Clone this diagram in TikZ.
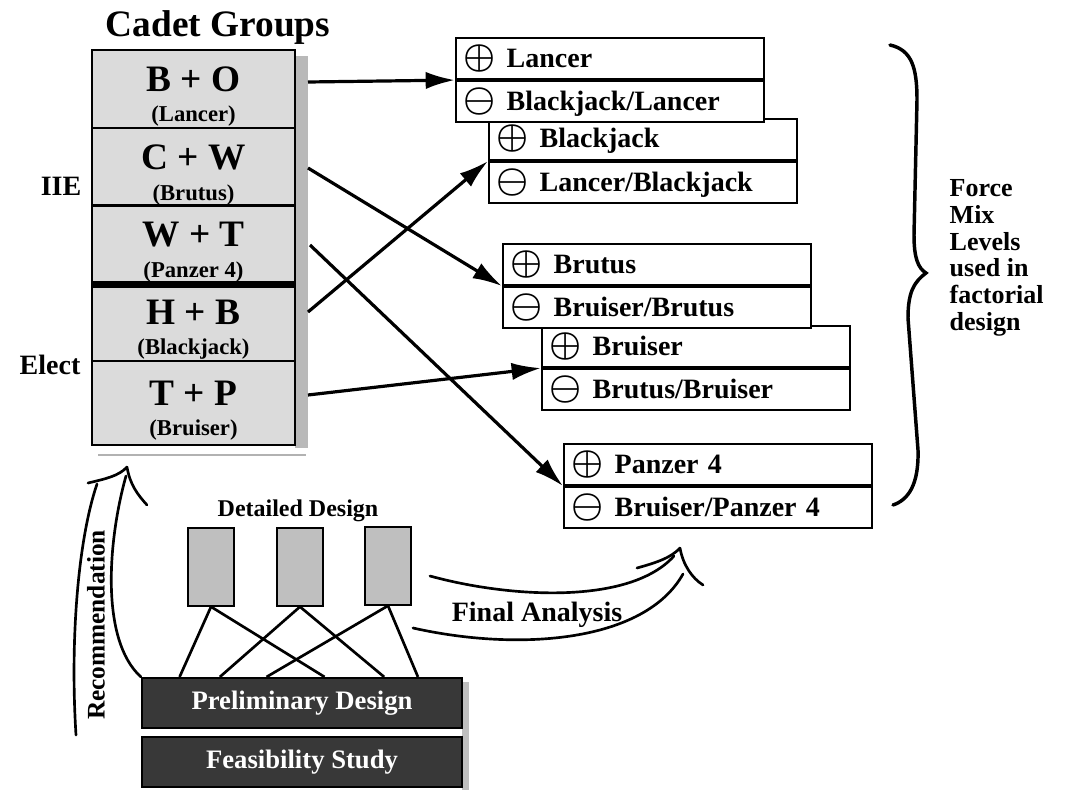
\documentclass[tikz,border=0pt]{standalone}
\usepackage{fontspec}
\setmainfont{Liberation Serif}
\usepackage{tikz}
\usetikzlibrary{arrows.meta,positioning,calc}

\newcommand{\plusmark}{\scalebox{1.3}{\boldmath$\oplus$}\hspace{8pt}}
\newcommand{\minusmark}{\scalebox{1.3}{\boldmath$\ominus$}\hspace{8pt}}
\newcommand{\cadet}[2]{{\fontsize{28}{28}\selectfont\rule{0pt}{30pt}#1}\\[10pt]{\fontsize{17}{17}\selectfont(#2)}}

\begin{document}
\bfseries
\begin{tikzpicture}[x=0.75pt,y=-0.75pt]
    \tikzset{cell/.style = {draw,line width=1.6pt,fill=gray!28,minimum width=152pt,minimum height=58.5pt,inner sep=0pt,align=center}}
    \tikzset{mixrow/.style = {draw,line width=1.3pt,fill=white,text width=219pt,align=left,minimum height=31pt,inner xsep=6pt,inner ysep=2pt,anchor=north west,font=\fontsize{21}{23}\selectfont}}
    \tikzset{link/.style = {line width=2.4pt,-{Latex[length=22pt,width=13pt]}}}
    \tikzset{doc/.style = {draw,line width=1.6pt,fill=gray!50,minimum width=34pt,minimum height=58pt}}
    \tikzset{stage/.style = {draw,line width=1.6pt,fill=black!78,text=white,minimum width=240pt,minimum height=37.5pt,font=\fontsize{20}{22}\selectfont}}
    \tikzset{docline/.style = {line width=2pt}}
    \tikzset{curve/.style = {line width=2pt,line cap=round}}

    \useasboundingbox (0,0) rectangle (1068,792);

    % cadet groups
    \node[font=\fontsize{28}{30}\selectfont] (title) at (218,28) {Cadet Groups};
    \fill[gray!55] (295,56) rectangle (308,448);
    \draw[gray!60,line width=1.5pt] (98,455) -- (306,455);
    \node[cell] (bo) at (193.5,89) {\cadet{B + O}{Lancer}};
    \node[cell] (cw) at (193.5,167) {\cadet{C + W}{Brutus}};
    \node[cell] (wt) at (193.5,244.5) {\cadet{W + T}{Panzer 4}};
    \node[cell] (hb) at (193.5,322) {\cadet{H + B}{Blackjack}};
    \node[cell,minimum height=63pt] (tp) at (193.5,403) {\cadet{T + P}{Bruiser}};
    \draw[line width=5pt] (wt.south west) -- (wt.south east);
    \node[font=\fontsize{21}{22}\selectfont] (iie) at (61,186) {IIE};
    \node[font=\fontsize{21}{22}\selectfont] (elect) at (50,365) {Elect};

    % force mix levels
    \node[mixrow] (blackjackP) at (488,118) {\plusmark Blackjack};
    \node[mixrow,below=0pt of blackjackP] (blackjackM) {\minusmark Lancer/Blackjack};
    \node[mixrow] (lancerP) at (455,37) {\plusmark Lancer};
    \node[mixrow,below=0pt of lancerP] (lancerM) {\minusmark Blackjack/Lancer};
    \node[mixrow] (bruiserP) at (541,325) {\plusmark Bruiser};
    \node[mixrow,below=0pt of bruiserP] (bruiserM) {\minusmark Brutus/Bruiser};
    \node[mixrow] (brutusP) at (502,243) {\plusmark Brutus};
    \node[mixrow,below=0pt of brutusP] (brutusM) {\minusmark Bruiser/Brutus};
    \node[mixrow] (panzerP) at (563,443) {\plusmark Panzer 4};
    \node[mixrow,below=0pt of panzerP] (panzerM) {\minusmark Bruiser/Panzer 4};

    % links
    \coordinate (boOut) at (308,82);
    \coordinate (cwOut) at (308,168);
    \coordinate (wtOut) at (310,245);
    \coordinate (hbOut) at (308,312);
    \coordinate (tpOut) at (308,395);
    \draw[link] (boOut) -- (lancerP.south west);
    \draw[link] (cwOut) -- (brutusP.south west);
    \draw[link] (wtOut) -- (panzerP.south west);
    \draw[link] (hbOut) -- (blackjackP.south west);
    \draw[link] (tpOut) -- (bruiserP.south west);

    % brace
    \draw[line width=2.6pt,line cap=round] (890,45) .. controls (912,50) and (917,68) .. (917,100)
        -- (914,235) .. controls (914,258) and (918,268) .. (926,273)
        .. controls (914,282) and (908,292) .. (908,318)
        -- (918,450) .. controls (919,485) and (908,500) .. (893,505);
    \node[align=left,anchor=west,font=\fontsize{19.5}{20}\selectfont] (forcemix) at (945,258)
        {Force\\Mix\\Levels\\used in\\factorial\\design};

    % design stages
    \node[font=\fontsize{18}{20}\selectfont] (detailed) at (298,511) {Detailed Design};
    \node[doc] (docA) at (211,567) {};
    \node[doc] (docB) at (300,567) {};
    \node[doc] (docC) at (388,566) {};
    \fill[gray!50] (462,682) rectangle (469,790);
    \node[stage] (prelim) at (302,703) {Preliminary Design};
    \node[stage,below=5pt of prelim] (feas) {Feasibility Study};
    \draw[docline] (docA.south) -- ($(prelim.north west)!0.12!(prelim.north east)$);
    \draw[docline] (docA.south) -- ($(prelim.north west)!0.57!(prelim.north east)$);
    \draw[docline] (docB.south) -- ($(prelim.north west)!0.245!(prelim.north east)$);
    \draw[docline] (docB.south) -- ($(prelim.north west)!0.755!(prelim.north east)$);
    \draw[docline] (docC.south) -- ($(prelim.north west)!0.39!(prelim.north east)$);
    \draw[docline] (docC.south) -- ($(prelim.north west)!0.86!(prelim.north east)$);

    % recommendation
    \coordinate (recTip) at (127,467);
    \draw[curve] (76,735) .. controls (70,640) and (78,540) .. (97,484);
    \draw[curve] (88,483) .. controls (105,479) and (119,476) .. (recTip);
    \draw[curve] (recTip) .. controls (130,485) and (138,495) .. (147,505);
    \draw[curve] (126,476) .. controls (108,540) and (100,640) .. (prelim.north west);
    \node[rotate=90,font=\fontsize{19}{20}\selectfont] (recommend) at (96,625) {Recommendation};

    % final analysis
    \coordinate (finTip) at (680,548);
    \draw[curve] (430,576) .. controls (510,598) and (630,605) .. (674,556);
    \draw[curve] (637,568) .. controls (655,563) and (671,558) .. (finTip);
    \draw[curve] (finTip) .. controls (683,565) and (692,578) .. (703,585);
    \draw[curve] (413,628) .. controls (520,652) and (645,642) .. (683,574);
    \node[font=\fontsize{21}{22}\selectfont] (final) at (537,615) {Final Analysis};
\end{tikzpicture}
\end{document}
